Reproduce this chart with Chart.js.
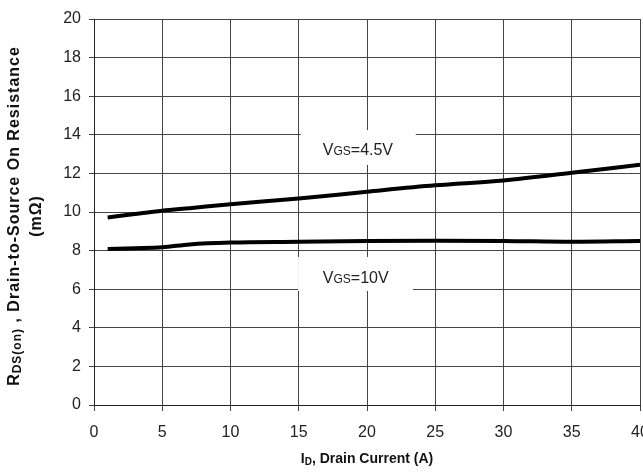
<!DOCTYPE html>
<html><head><meta charset="utf-8">
<script src="https://cdn.jsdelivr.net/npm/chart.js@4.4.1/dist/chart.umd.min.js"></script>
<style>html,body{margin:0;padding:0;background:#fff}#wrap{width:643px;height:473px}</style>
</head><body><div id="wrap"><canvas id="c" width="643" height="473"></canvas></div>
<script>
const current = [1, 3, 5, 7, 10, 15, 20, 25, 30, 35, 40];
const rdsVgs45 = [9.72, 9.9, 10.07, 10.2, 10.4, 10.7, 11.05, 11.38, 11.63, 12.03, 12.45];
const rdsVgs10 = [8.08, 8.12, 8.17, 8.32, 8.42, 8.46, 8.5, 8.51, 8.5, 8.46, 8.5];
const xTicks = [0, 5, 10, 15, 20, 25, 30, 35, 40];
const yTicks = [0, 2, 4, 6, 8, 10, 12, 14, 16, 18, 20];
const seriesLabels = ['VGS=4.5V', 'VGS=10V'];

const FF = "'Liberation Sans', Arial, sans-serif";
const tickFont = {family: FF, size: 16};
const gridColor = '#444';

function drawParts(ctx, parts, x, y, align, spacing) {
  ctx.letterSpacing = (spacing || 0) + 'px';
  let total = 0;
  parts.forEach(p => { ctx.font = p.font; total += ctx.measureText(p.t).width; });
  let cx = align === 'center' ? x - total / 2 : x;
  ctx.textAlign = 'left';
  parts.forEach(p => {
    ctx.font = p.font;
    ctx.fillText(p.t, cx, y + (p.dy || 0));
    cx += ctx.measureText(p.t).width;
  });
  ctx.letterSpacing = '0px';
  return total;
}

const annotPlugin = {
  id: 'annot',
  afterDraw(chart) {
    const ctx = chart.ctx;
    const xs = chart.scales.x, ys = chart.scales.y;
    ctx.save();
    const boxes = [
      {x0: 15.15, x1: 23.57, y0: 14.25, y1: 12.44, v: '4.5V', tx: 16.76, ty: 12.95},
      {x0: 14.95, x1: 23.37, y0: 7.67, y1: 5.91, v: '10V', tx: 16.76, ty: 6.32}
    ];
    boxes.forEach(b => {
      const L = xs.getPixelForValue(b.x0), R = xs.getPixelForValue(b.x1);
      const T = ys.getPixelForValue(b.y0), B = ys.getPixelForValue(b.y1);
      ctx.fillStyle = '#fff';
      ctx.fillRect(L, T, R - L, B - T);
      ctx.fillStyle = '#222';
      ctx.textBaseline = 'alphabetic';
      drawParts(ctx, [
        {t: 'V', font: "16px " + FF},
        {t: 'GS', font: "12px " + FF},
        {t: '=' + b.v, font: "16px " + FF}
      ], xs.getPixelForValue(b.tx), ys.getPixelForValue(b.ty), 'left');
    });
    const midX = (xs.left + xs.right) / 2;
    const midY = (ys.top + ys.bottom) / 2 + 4;
    // x title
    ctx.fillStyle = '#111';
    ctx.textBaseline = 'middle';
    drawParts(ctx, [
      {t: 'I', font: "bold 14px " + FF},
      {t: 'D', font: "bold 10px " + FF, dy: 3},
      {t: ', Drain Current (A)', font: "bold 14px " + FF}
    ], midX, 459, 'center');
    // y title
    ctx.save();
    ctx.translate(15, midY);
    ctx.rotate(-Math.PI / 2);
    drawParts(ctx, [
      {t: 'R', font: "bold 16px " + FF},
      {t: 'DS(on)', font: "bold 12px " + FF, dy: 3},
      {t: ' , Drain-to-Source On Resistance', font: "bold 16px " + FF}
    ], 0, 0, 'center', 1);
    ctx.restore();
    ctx.save();
    ctx.translate(37, midY);
    ctx.rotate(-Math.PI / 2);
    drawParts(ctx, [{t: '(mΩ)', font: "bold 16px " + FF}], 0, 0, 'center', 1);
    ctx.restore();
    ctx.restore();
  }
};

new Chart(document.getElementById('c'), {
  type: 'line',
  data: {
    datasets: [
      {label: seriesLabels[0], data: current.map((x, i) => ({x, y: rdsVgs45[i]})), borderColor: '#000', borderWidth: 4, pointRadius: 0, cubicInterpolationMode: 'monotone', fill: false},
      {label: seriesLabels[1], data: current.map((x, i) => ({x, y: rdsVgs10[i]})), borderColor: '#000', borderWidth: 4, pointRadius: 0, cubicInterpolationMode: 'monotone', fill: false}
    ]
  },
  options: {
    responsive: false,
    animation: false,
    devicePixelRatio: 1,
    layout: {padding: {left: 0, right: 3, top: 19, bottom: 0}},
    plugins: {legend: {display: false}, tooltip: {enabled: false}},
    scales: {
      x: {
        type: 'linear', min: 0, max: 40,
        afterBuildTicks: s => { s.ticks = xTicks.map(v => ({value: v})); },
        afterFit: s => { s.height = 68; s.paddingLeft = 0; s.paddingRight = 0; },
        grid: {color: gridColor, lineWidth: 1, tickLength: 6, drawTicks: true, tickColor: gridColor},
        border: {color: '#222', width: 1},
        ticks: {color: '#222', font: tickFont, padding: 12, maxRotation: 0, autoSkip: false}
      },
      y: {
        min: 0, max: 20,
        afterBuildTicks: s => { s.ticks = yTicks.map(v => ({value: v})); },
        afterFit: s => { s.width = 94; s.paddingTop = 0; s.paddingBottom = 0; },
        grid: {color: gridColor, lineWidth: 1, tickLength: 5, tickColor: gridColor},
        border: {color: '#222', width: 1},
        ticks: {color: '#222', font: tickFont, padding: 8, autoSkip: false}
      }
    }
  },
  plugins: [annotPlugin]
});
</script>
</body></html>
